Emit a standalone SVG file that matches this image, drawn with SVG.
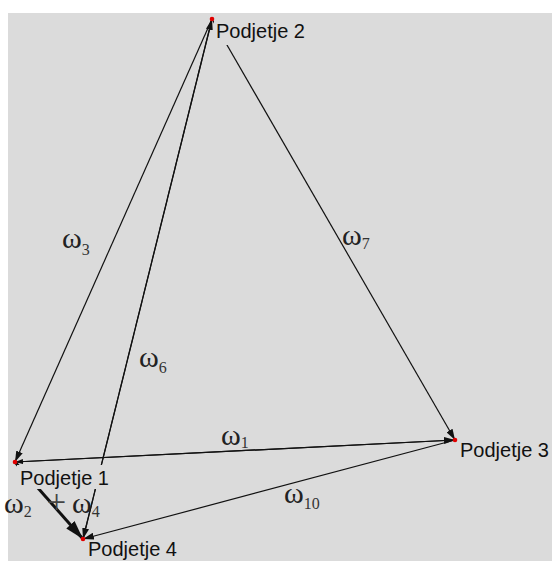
<svg xmlns="http://www.w3.org/2000/svg" width="552" height="561" viewBox="0 0 552 561">
<style>
.e{stroke:#111;stroke-width:1.2;fill:none}
.nl{font-family:"Liberation Sans",Arial,sans-serif;font-size:20px;fill:#111}
.w{font-family:"Liberation Serif","Times New Roman",serif;font-size:30px;fill:#222}
.s{font-size:16px;fill:#333}
.bg{fill:#dbdbdb}
.dot{fill:#e00000}
</style>
<defs>
<marker id="arr" markerUnits="userSpaceOnUse" markerWidth="11" markerHeight="7" refX="11" refY="3.5" orient="auto"><path d="M0,0 L11,3.5 L0,7 z" fill="#111"/></marker>
<marker id="arrs" markerUnits="userSpaceOnUse" markerWidth="8" markerHeight="5" refX="8" refY="2.5" orient="auto"><path d="M0,0 L8,2.5 L0,5 z" fill="#111"/></marker>
<marker id="arrb" markerUnits="userSpaceOnUse" markerWidth="19" markerHeight="11" refX="19" refY="5.5" orient="auto"><path d="M0,0 L19,5.5 L0,11 z" fill="#111"/></marker>
</defs>
<rect width="552" height="561" fill="#ffffff"/>
<rect x="8" y="13" width="544" height="548" fill="#dbdbdb"/>
<g id="connectors">
<line class="e" x1="212" y1="19" x2="15" y2="462" marker-end="url(#arr)"/>
<line class="e" x1="83" y1="539" x2="212" y2="19" marker-end="url(#arr)"/>
<line class="e" x1="212" y1="19" x2="83" y2="539" marker-end="url(#arr)"/>
<line class="e" x1="455" y1="440" x2="15" y2="462" marker-end="url(#arrs)"/>
<line class="e" x1="15" y1="462" x2="455" y2="440" marker-end="url(#arr)"/>
<line class="e" x1="212" y1="19" x2="455" y2="440" marker-end="url(#arr)"/>
<line class="e" x1="455" y1="440" x2="83" y2="539" marker-end="url(#arr)"/>
<line class="e" x1="15" y1="462" x2="83" y2="539" marker-end="url(#arrb)" style="stroke-width:3"/>
</g>
<g id="edge-labels">
<text class="w" x="62" y="248">ω<tspan class="s" dy="7">3</tspan></text>
<text class="w" x="139" y="367">ω<tspan class="s" dy="6">6</tspan></text>
<text class="w" x="342" y="245">ω<tspan class="s" dy="4">7</tspan></text>
<text class="w" x="221" y="445">ω<tspan class="s" dy="3">1</tspan></text>
<text class="w" x="284" y="503">ω<tspan class="s" dy="6">10</tspan></text>
<text class="w" x="4" y="513">ω<tspan class="s" dy="4">2</tspan></text>
<text class="w" x="47" y="513" style="font-size:34px;fill:#444">+</text>
<text class="w" x="72" y="513">ω<tspan class="s" dy="4">4</tspan></text>
</g>
<g id="n2"><rect class="bg" x="214" y="21" width="98" height="24"/><circle class="dot" cx="212" cy="19" r="2.3"/><text class="nl" x="216" y="38">Podjetje 2</text></g>
<g id="n1"><rect class="bg" x="17" y="465" width="93" height="24"/><circle class="dot" cx="15" cy="462" r="2.3"/><text class="nl" x="20" y="485">Podjetje 1</text></g>
<g id="n3"><rect class="bg" x="457" y="442" width="95" height="22"/><circle class="dot" cx="455" cy="440" r="2.3"/><text class="nl" x="460" y="457">Podjetje 3</text></g>
<g id="n4"><rect class="bg" x="86" y="541" width="95" height="20"/><circle class="dot" cx="83" cy="539" r="2.3"/><text class="nl" x="88" y="556">Podjetje 4</text></g>
</svg>
